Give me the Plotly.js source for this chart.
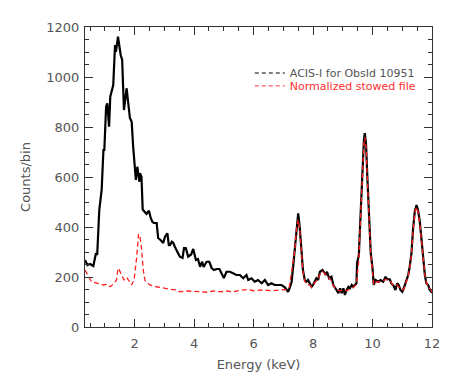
<!DOCTYPE html>
<html>
<head>
<meta charset="utf-8">
<script src="https://cdn.plot.ly/plotly-3.0.1.min.js"></script>
<style>
  html, body { margin: 0; padding: 0; background: #fff; }
  #chart { width: 458px; height: 381px; }
</style>
</head>
<body>
<div id="chart"></div>
<script>
// ACIS-I spectrum (black) vs normalized stowed background (red)
var obsEnergy = [0.33,0.41,0.50,0.61,0.70,0.74,0.81,0.89,0.95,0.98,1.04,1.08,1.14,1.18,1.28,1.34,1.37,1.44,1.53,1.58,
  1.64,1.73,1.84,1.90,1.95,2.04,2.09,2.16,2.18,2.23,2.27,2.35,2.40,2.48,2.54,2.60,2.65,2.74,2.79,2.87,
  2.96,3.02,3.10,3.15,3.19,3.25,3.30,3.35,3.41,3.52,3.61,3.66,3.72,3.80,3.90,3.97,4.06,4.13,4.20,4.27,
  4.32,4.42,4.51,4.59,4.67,4.76,4.85,4.92,5.00,5.09,5.20,5.31,5.42,5.54,5.65,5.76,5.82,5.93,6.04,6.15,
  6.27,6.38,6.49,6.60,6.71,6.83,6.94,7.05,7.16,7.21,7.28,7.33,7.39,7.44,7.50,7.55,7.61,7.66,7.72,7.78,
  7.83,7.89,7.95,8.00,8.06,8.11,8.17,8.23,8.32,8.36,8.43,8.47,8.54,8.62,8.68,8.79,8.85,8.91,8.96,9.02,
  9.07,9.13,9.19,9.24,9.30,9.35,9.41,9.46,9.48,9.54,9.59,9.65,9.71,9.74,9.78,9.83,9.89,9.94,10.00,10.04,
  10.10,10.19,10.27,10.36,10.44,10.49,10.58,10.63,10.71,10.77,10.83,10.88,10.94,11.00,11.05,11.11,11.20,11.25,11.31,11.36,
  11.42,11.48,11.53,11.59,11.65,11.70,11.76,11.81,11.87,11.93,12.00];
var obsCounts = [268,248,252,244,296,288,468,548,708,708,881,895,801,921,968,1128,1101,1161,1088,1068,
  868,955,836,821,721,588,641,581,615,600,470,456,452,465,436,420,416,416,356,348,
  336,361,375,327,327,341,336,321,308,281,276,316,316,281,290,312,268,272,241,261,
  240,261,261,236,228,232,232,216,196,221,221,215,208,208,195,208,188,195,181,188,
  175,188,168,175,168,168,168,159,141,155,181,241,321,401,455,401,308,228,188,181,
  188,175,161,168,181,195,188,221,228,221,208,221,195,201,168,148,135,155,135,155,
  128,148,161,155,168,161,168,175,255,288,428,615,748,775,735,588,428,295,235,168,
  188,181,188,181,201,191,191,175,165,148,175,168,148,141,155,175,208,241,295,388,
  461,488,468,421,348,268,208,175,168,148,137];

var bkgEnergy = [0.33,0.41,0.48,0.55,0.72,0.84,0.95,1.06,1.17,1.28,1.39,1.44,1.48,1.56,1.64,1.73,1.79,1.90,1.98,2.07,
  2.13,2.18,2.23,2.29,2.35,2.51,2.74,2.96,3.19,3.41,3.52,3.75,3.97,4.20,4.42,4.66,4.90,5.10,5.30,5.54,
  5.80,6.00,6.30,6.60,6.90,7.10,7.20,7.30,7.39,7.44,7.50,7.55,7.61,7.66,7.72,7.78,7.89,7.95,8.06,8.17,
  8.23,8.32,8.43,8.54,8.62,8.68,8.79,8.91,9.02,9.13,9.24,9.35,9.46,9.54,9.59,9.65,9.71,9.74,9.78,9.83,
  9.89,9.94,10.00,10.04,10.10,10.27,10.44,10.58,10.71,10.83,10.94,11.05,11.11,11.20,11.25,11.31,11.36,11.42,11.48,11.53,
  11.59,11.65,11.70,11.76,11.81,11.87,11.93,12.00];
var bkgCounts = [228,208,195,181,175,172,168,171,161,171,188,235,230,208,188,199,188,168,188,281,
  372,362,315,228,185,168,161,155,151,148,141,144,144,141,139,144,141,144,140,147,
  150,145,148,145,148,150,160,230,310,390,430,390,300,222,183,170,168,160,178,190,
  210,222,210,195,185,165,150,145,148,145,152,158,170,270,420,600,735,760,725,580,
  420,290,220,170,180,180,190,185,165,168,150,150,170,205,235,290,380,455,480,462,
  415,345,270,210,178,165,150,140];

var legendNames = ['ACIS-I for ObsId 10951', 'Normalized stowed file'];

var gray = '#555555';

var traceObs = {
  x: obsEnergy, y: obsCounts, mode: 'lines', showlegend: false,
  line: {color: '#000000', width: 2.2}
};
var traceBkg = {
  x: bkgEnergy, y: bkgCounts, mode: 'lines', showlegend: false,
  line: {color: '#ff2020', width: 1.3, dash: '5px,3px'}
};
// legend entries (thin dashed samples like the original), one legend each so the rows sit close
var legObs = {
  x: [null], y: [null], mode: 'lines', name: legendNames[0], legend: 'legend',
  line: {color: '#000000', width: 1, dash: '4px,3px'}
};
var legBkg = {
  x: [null], y: [null], mode: 'lines', legend: 'legend2',
  name: '<span style="color:#ff3030">' + legendNames[1] + '</span>',
  line: {color: '#ff3030', width: 1, dash: '4px,3px'}
};

var axisCommon = {
  showgrid: false, zeroline: false, showline: true, mirror: 'allticks',
  linecolor: '#333333', linewidth: 1,
  ticks: 'inside', ticklen: 8, tickcolor: '#333333', tickwidth: 1,
  tickfont: {family: 'DejaVu Sans', size: 13, color: gray}
};

var legendCommon = {
  x: 0.475, xanchor: 'left', yanchor: 'top',
  bgcolor: 'rgba(0,0,0,0)', borderwidth: 0,
  font: {family: 'DejaVu Sans', size: 11, color: gray},
  itemwidth: 30
};

var layout = {
  width: 458, height: 381,
  margin: {l: 85, r: 26, t: 27, b: 54},
  paper_bgcolor: '#ffffff', plot_bgcolor: '#ffffff',
  font: {family: 'DejaVu Sans', color: gray},
  showlegend: true,
  legend: Object.assign({}, legendCommon, {y: 0.895}),
  legend2: Object.assign({}, legendCommon, {y: 0.852}),
  xaxis: Object.assign({}, axisCommon, {
    range: [0.33, 12], tickvals: [2, 4, 6, 8, 10, 12],
    ticklabelstandoff: 4,
    minor: {ticks: 'inside', ticklen: 4, dtick: 0.5, tick0: 0, tickcolor: '#333333'},
    title: {text: 'Energy (keV)', font: {family: 'DejaVu Sans', size: 13, color: gray}, standoff: 10}
  }),
  yaxis: Object.assign({}, axisCommon, {
    range: [0, 1200], dtick: 200,
    ticklabelstandoff: 2,
    minor: {ticks: 'inside', ticklen: 4, dtick: 50, tickcolor: '#333333'},
    title: {text: 'Counts/bin', font: {family: 'DejaVu Sans', size: 13, color: gray}, standoff: 12}
  })
};

Plotly.newPlot('chart', [traceObs, traceBkg, legObs, legBkg], layout, {displayModeBar: false, staticPlot: true});
</script>
</body>
</html>
